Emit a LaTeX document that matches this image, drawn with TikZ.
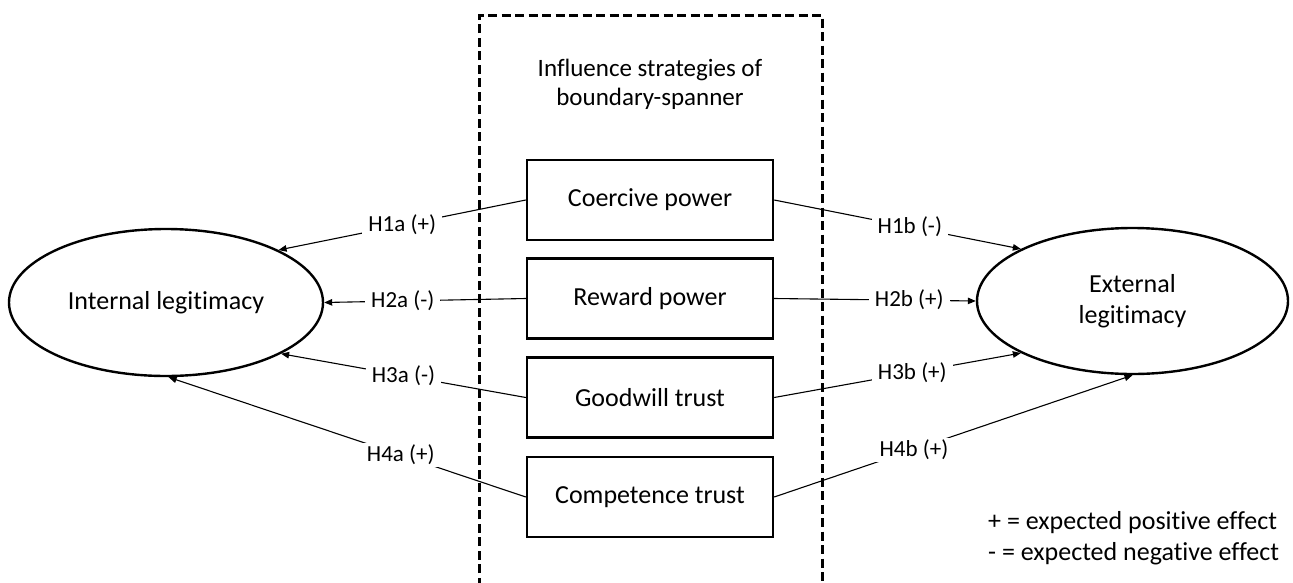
\documentclass[tikz,border=0pt]{standalone}
\usepackage{fontspec}
\setmainfont{Carlito}[Ligatures=NoCommon]
\usetikzlibrary{shapes.geometric,arrows.meta}
\tikzset{
  bigtext/.style={font=\fontsize{26}{31}\selectfont},
  construct/.style={draw, ellipse, line width=2.4pt, inner sep=0pt, align=center, bigtext},
  strategy/.style={draw, rectangle, line width=2.4pt, minimum width=246pt, minimum height=80pt, inner sep=0pt, bigtext},
  conn/.style={line width=1.1pt, -{Triangle[length=8pt,width=6.5pt]}},
  lab/.style={fill=white, inner xsep=6pt, inner ysep=2pt, font=\fontsize{23}{27}\selectfont},
  dashbox/.style={line width=3pt, dash pattern=on 9pt off 4.5pt}
}
\begin{document}
\begin{tikzpicture}[x=1pt,y=-1pt]
\useasboundingbox (0,0) rectangle (1293,582);
\clip (0,0) rectangle (1293,582);
% dashed frame
\draw[dashbox] (479,600) -- (479,15) -- (822,15) -- (822,600);
\node[bigtext, align=center, font=\fontsize{25}{29}\selectfont] (title) at (650,84) {Influence strategies of\\boundary-spanner};
% constructs
\node[construct, minimum width=314pt, minimum height=147pt] (il) at (166,302.5) {Internal legitimacy};
\node[construct, minimum width=311pt, minimum height=146pt] (el) at (1132.5,301) {External\\legitimacy};
% strategies
\node[strategy] (cp) at (650,200) {Coercive power};
\node[strategy] (rp) at (650,298.5) {Reward power};
\node[strategy] (gt) at (650,397.5) {Goodwill trust};
\node[strategy] (ct) at (650,497) {Competence trust};
% connectors left
\draw[conn] (cp.west) -- node[lab,pos=0.5]{H1a (+)} (il.25);
\draw[conn] (rp.west) -- node[lab,pos=0.61]{H2a (-)} (il.0);
\draw[conn] (gt.west) -- node[lab,pos=0.5]{H3a (-)} (il.-24);
\draw[conn] (ct.west) -- node[lab,pos=0.35]{H4a (+)} (il.-88);
% connectors right
\draw[conn] (cp.east) -- node[lab,pos=0.55]{H1b (-)} (el.155);
\draw[conn] (rp.east) -- node[lab,pos=0.67]{H2b (+)} (el.180);
\draw[conn] (gt.east) -- node[lab,pos=0.56]{H3b (+)} (el.205);
\draw[conn] (ct.east) -- node[lab,pos=0.39]{H4b (+)} (el.270);
% legend
\node[bigtext, align=left, anchor=west, inner sep=0pt] (legend) at (988,538) {+ = expected positive effect\\- = expected negative effect};
\end{tikzpicture}
\end{document}
